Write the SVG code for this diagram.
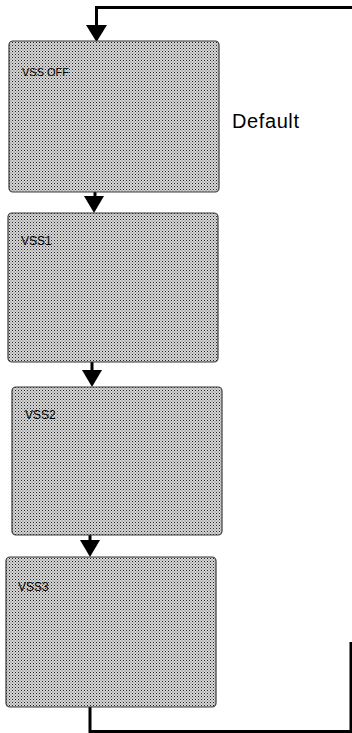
<svg xmlns="http://www.w3.org/2000/svg" width="352" height="733" viewBox="0 0 352 733">
<style>
.box{fill:url(#stip);stroke:#3a3a3a;stroke-width:1.2}
.lbl{font-family:"Liberation Sans",Arial,sans-serif;fill:#000}
.line{fill:none;stroke:#000;stroke-width:3}
</style>
<defs>
<pattern id="stip" width="3" height="3" patternUnits="userSpaceOnUse">
<rect width="3" height="3" fill="#d6d6d6"/>
<rect x="0" y="0" width="1" height="1" fill="#222"/>
<rect x="1.5" y="1.5" width="1" height="1" fill="#666"/>
</pattern>
</defs>
<g id="connectors">
<path class="line" d="M352,7.5 H96.5 V28"/>
<polygon points="86,25 107,25 96.5,42" fill="#000"/>
<path class="line" d="M95,192 V198"/>
<polygon points="84,196 104,196 94,213" fill="#000"/>
<path class="line" d="M92,362 V372"/>
<polygon points="82,370 102,370 92,387" fill="#000"/>
<path class="line" d="M90,535 V542"/>
<polygon points="80,540 100,540 90,557" fill="#000"/>
<path class="line" d="M90,707 V731.5 H351 V642"/>
</g>
<g id="node-vss-off">
<rect class="box" x="9" y="41" width="210" height="151" rx="4"/>
<text class="lbl" x="22" y="76" font-size="11">VSS  OFF</text>
</g>
<g id="label-default">
<text class="lbl" x="232" y="128" font-size="20" letter-spacing="0.6">Default</text>
</g>
<g id="node-vss1">
<rect class="box" x="8" y="213" width="210" height="149" rx="4"/>
<text class="lbl" x="21" y="245" font-size="12">VSS1</text>
</g>
<g id="node-vss2">
<rect class="box" x="12" y="387" width="210" height="148" rx="4"/>
<text class="lbl" x="25" y="419" font-size="12">VSS2</text>
</g>
<g id="node-vss3">
<rect class="box" x="6" y="557" width="210" height="150" rx="4"/>
<text class="lbl" x="18" y="591" font-size="12">VSS3</text>
</g>
</svg>
